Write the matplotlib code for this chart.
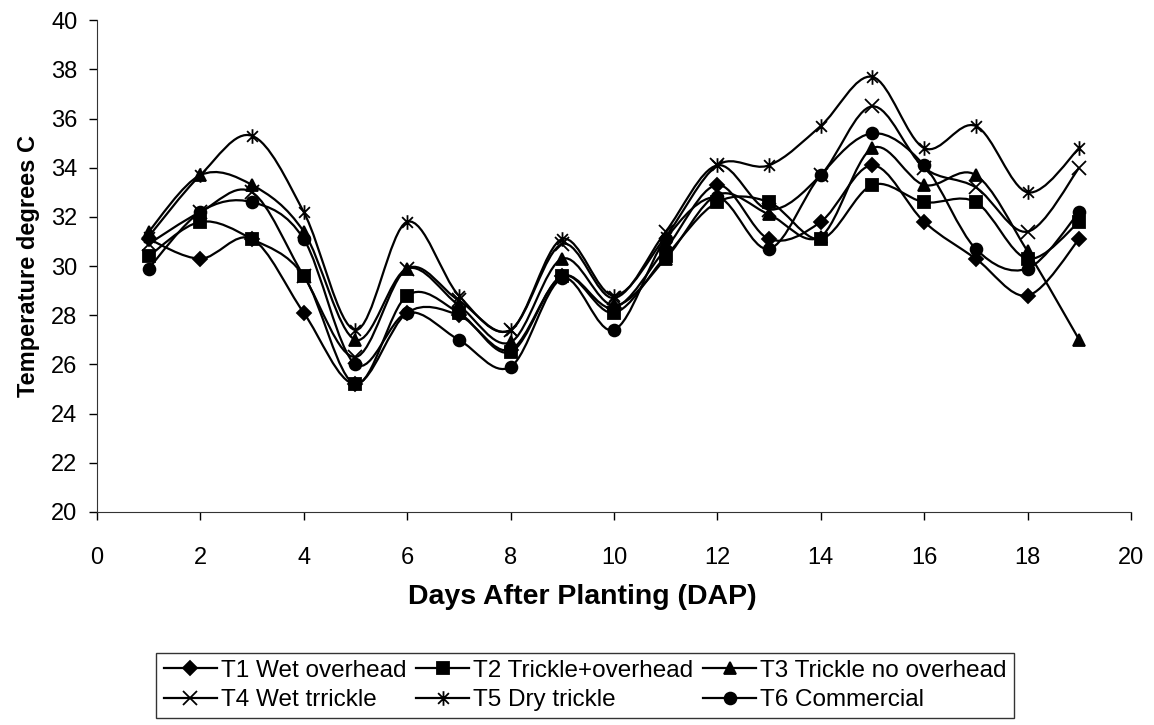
import numpy as np
import matplotlib.pyplot as plt
from matplotlib.path import Path
from matplotlib.patches import PathPatch
from matplotlib.lines import Line2D

plt.rcParams['font.family'] = ['Liberation Sans', 'DejaVu Sans']

# data
days = [1, 2, 3, 4, 5, 6, 7, 8, 9, 10, 11, 12, 13, 14, 15, 16, 17, 18, 19]
t1_wet_overhead = [31.1, 30.3, 31.1, 28.1, 25.2, 28.1, 28.0, 26.6, 29.6, 28.3,
                   30.7, 33.3, 31.1, 31.8, 34.1, 31.8, 30.3, 28.8, 31.1]
t2_trickle_overhead = [30.4, 31.8, 31.1, 29.6, 25.2, 28.8, 28.1, 26.5, 29.6, 28.1,
                       30.4, 32.6, 32.6, 31.1, 33.3, 32.6, 32.6, 30.3, 31.8]
t3_trickle_no_overhead = [31.4, 33.7, 33.3, 31.4, 27.0, 29.9, 28.4, 26.9, 30.3, 28.4,
                          30.3, 32.9, 32.1, 31.2, 34.8, 33.3, 33.7, 30.6, 27.0]
t4_wet_trickle = [30.9, 32.2, 33.0, 29.6, 26.3, 29.9, 28.6, 27.4, 30.9, 28.7,
                  31.4, 34.1, 32.3, 33.7, 36.5, 34.0, 33.2, 31.4, 34.0]
t5_dry_trickle = [31.2, 33.7, 35.3, 32.2, 27.4, 31.8, 28.8, 27.4, 31.1, 28.8,
                  31.2, 34.1, 34.1, 35.7, 37.7, 34.8, 35.7, 33.0, 34.8]
t6_commercial = [29.9, 32.2, 32.6, 31.1, 26.0, 28.1, 27.0, 25.9, 29.5, 27.4,
                 31.1, 32.8, 30.7, 33.7, 35.4, 34.1, 30.7, 29.9, 32.2]

labels = ['T1 Wet overhead', 'T2 Trickle+overhead', 'T3 Trickle no overhead',
          'T4 Wet trrickle', 'T5 Dry trickle', 'T6 Commercial']
x_ticks = [0, 2, 4, 6, 8, 10, 12, 14, 16, 18, 20]
y_ticks = [20, 22, 24, 26, 28, 30, 32, 34, 36, 38, 40]

# excel style asterisk: an X with a vertical bar
asterisk = Path([(-1, -1), (1, 1), (-1, 1), (1, -1), (0, -1.35), (0, 1.35)],
                [Path.MOVETO, Path.LINETO, Path.MOVETO, Path.LINETO, Path.MOVETO, Path.LINETO])

series = [t1_wet_overhead, t2_trickle_overhead, t3_trickle_no_overhead,
          t4_wet_trickle, t5_dry_trickle, t6_commercial]
markers = ['D', 's', '^', 'x', asterisk, 'o']
msizes = [7.5, 8, 9, 9.5, 10.5, 8.5]


def smooth_path(x, y):
    # bezier path through the points, like excel's smoothed line
    p = np.column_stack([x, y]).astype(float)
    n = len(p)
    verts = [p[0]]
    codes = [Path.MOVETO]
    for i in range(n - 1):
        p0 = p[i - 1] if i > 0 else p[i]
        p3 = p[i + 2] if i + 2 < n else p[i + 1]
        c1 = p[i] + (p[i + 1] - p0) / 6.0
        c2 = p[i + 1] - (p3 - p[i]) / 6.0
        verts += [c1, c2, p[i + 1]]
        codes += [Path.CURVE4] * 3
    return Path(verts, codes)


fig = plt.figure(figsize=(11.54, 7.25), dpi=100)
ax = fig.add_axes([0.084, 0.294, 0.896, 0.678])

handles = []
for vals, m, ms, lab in zip(series, markers, msizes, labels):
    ax.add_patch(PathPatch(smooth_path(days, vals), facecolor='none',
                           edgecolor='black', lw=1.6, zorder=2))
    ax.plot(days, vals, linestyle='none', marker=m, markersize=ms,
            color='black', markeredgewidth=1.3, zorder=3)
    handles.append(Line2D([], [], color='black', lw=1.6, marker=m,
                          markersize=ms, markeredgewidth=1.3))

ax.set_xlim(0, 20)
ax.set_ylim(20, 40)
ax.set_xticks(x_ticks)
ax.set_yticks(y_ticks)
ax.tick_params(direction='out', length=6, width=1, labelsize=17, colors='black')
ax.tick_params(axis='y', pad=8)
ax.tick_params(axis='x', pad=19)
for side in ['top', 'right']:
    ax.spines[side].set_visible(False)
for side in ['left', 'bottom']:
    ax.spines[side].set_color('#333333')

ax.set_ylabel('Temperature degrees C', fontsize=17, fontweight='bold', labelpad=8)
# the x title sits centred on the whole chart, not on the plot area
fig.text(0.505, 0.177, 'Days After Planting (DAP)', fontsize=20.5,
         fontweight='bold', ha='center', va='center')

order = [0, 3, 1, 4, 2, 5]
leg = fig.legend([handles[i] for i in order], [labels[i] for i in order],
                 ncol=3, loc='lower center', bbox_to_anchor=(0.507, 0.009),
                 fontsize=17.5, frameon=True, fancybox=False, edgecolor='black',
                 handlelength=2.2, handletextpad=0.15, columnspacing=0.4,
                 borderpad=0.3, labelspacing=0.3, borderaxespad=0)
leg.get_frame().set_linewidth(1.0)

plt.savefig('out.png', dpi=100)
